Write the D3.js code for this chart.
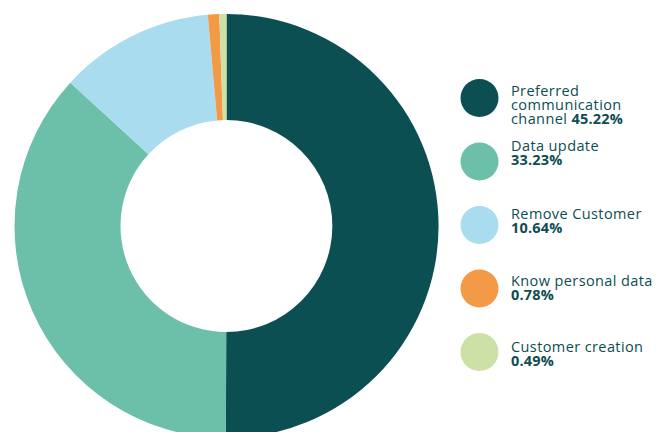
<!DOCTYPE html>
<html>
<head>
<meta charset="utf-8">
<script src="https://cdn.jsdelivr.net/npm/d3@7"></script>
<style>
  html, body { margin: 0; padding: 0; background: #ffffff; }
  svg { display: block; }
  text { font-family: "Open Sans", "DejaVu Sans", sans-serif; fill: #0d4d52; }
</style>
</head>
<body>
<svg id="chart" width="663" height="432"></svg>
<script>
// Data
const categories = ["Preferred communication channel", "Data update", "Remove Customer", "Know personal data", "Customer creation"];
const values = [45.22, 33.23, 10.64, 0.78, 0.49];
const percentLabels = ["45.22%", "33.23%", "10.64%", "0.78%", "0.49%"];
const colors = ["#0b4f53", "#6cc0aa", "#aadcf0", "#f39a47", "#cde0a5"];
// legend text line breaks (layout)
const labelLines = [["Preferred", "communication", "channel "], ["Data update"], ["Remove Customer"], ["Know personal data"], ["Customer creation"]];
const textOffsets = [-2, -11, -6, -3, 0];

const svg = d3.select("#chart");
const cx = 226.5, cy = 226, R = 212, r = 106;

const pie = d3.pie().sort(null).value(d => d.v);
const arc = d3.arc().innerRadius(r).outerRadius(R);
const data = values.map((v, i) => ({ v, i }));

svg.append("g").attr("transform", `translate(${cx},${cy})`)
  .selectAll("path").data(pie(data)).join("path")
  .attr("d", arc)
  .attr("fill", d => colors[d.data.i]);

// Legend
const ly = d3.scalePoint().domain(d3.range(values.length)).range([98, 352]);
const lg = svg.append("g");
const lineH = 14;
data.forEach((d, i) => {
  const y = ly(i);
  lg.append("circle").attr("cx", 479.5).attr("cy", y).attr("r", 19).attr("fill", colors[i]);
  const lines = labelLines[i];
  const t = lg.append("text").attr("x", 511).attr("y", y + textOffsets[i])
    .style("font-size", "14.5px").style("letter-spacing", "0.4px");
  lines.forEach((ln, k) => {
    t.append("tspan").attr("x", 511).attr("dy", k === 0 ? 0 : lineH).text(ln);
    if (k === lines.length - 1 && lines.length > 1) {
      t.append("tspan").style("font-weight", "700").style("letter-spacing", "0.2px").text(percentLabels[i]);
    }
  });
  if (lines.length === 1) {
    t.append("tspan").attr("x", 511).attr("dy", lineH).style("font-weight", "700").style("letter-spacing", "0.2px").text(percentLabels[i]);
  }
});
</script>
</body>
</html>
